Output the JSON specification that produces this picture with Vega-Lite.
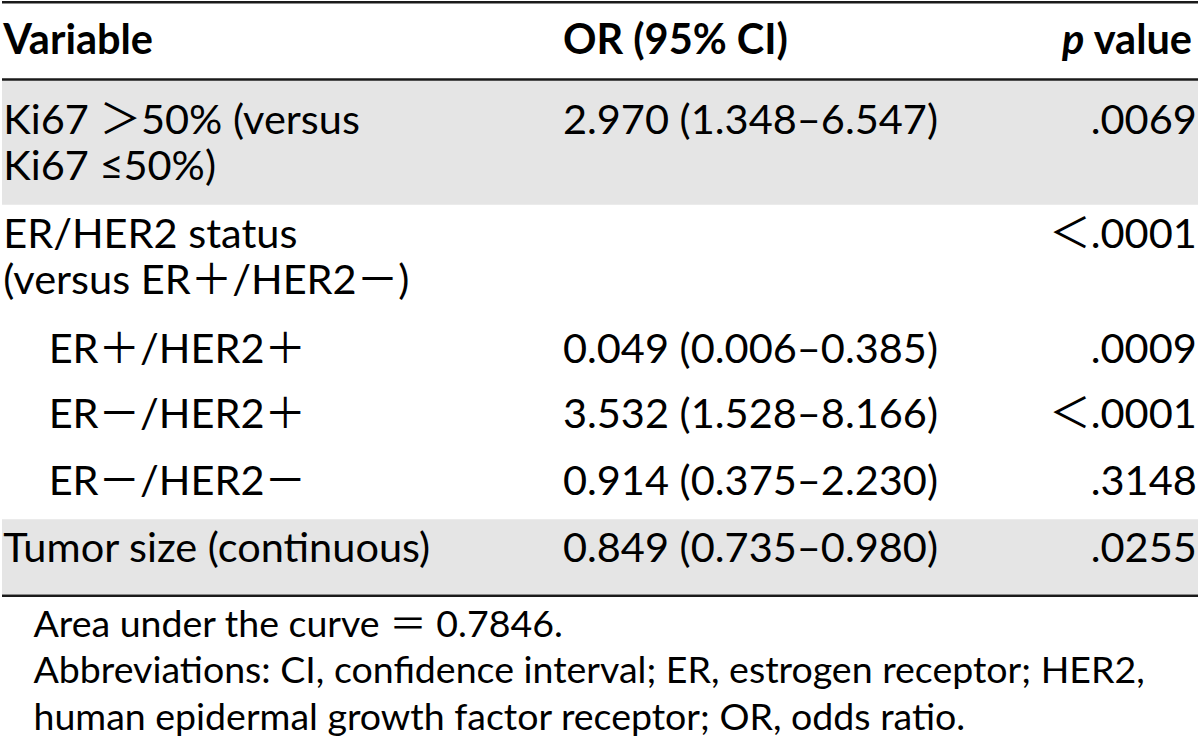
{
  "$schema": "https://vega.github.io/schema/vega-lite/v6.json",
  "width": 1200,
  "height": 738,
  "autosize": {"type": "fit", "contains": "padding"},
  "padding": 0,
  "background": "white",
  "config": {
    "view": {"stroke": null},
    "text": {"font": "Lato, 'Noto Sans CJK JP'", "fontSize": 41.5, "color": "#000000", "baseline": "alphabetic"}
  },
  "datasets": {
    "bands": [
      {"group": "Ki67", "top": 1.71, "bottom": 4.387},
      {"group": "Tumor size", "top": 11.161, "bottom": 12.774}
    ],
    "rules": [
      {"rule": "top", "pos": 0.026},
      {"rule": "header", "pos": 1.688},
      {"rule": "bottom", "pos": 12.806}
    ],
    "header": [
      {"variable": "Variable", "or": "OR (95% CI)", "p_italic": "p", "p_rest": "value", "line": 1.14}
    ],
    "rows": [
      {"variable": "Ki67 ＞50% (versus\nKi67 ≤50%)", "or": "2.970 (1.348–6.547)", "p": ".0069", "level": 0, "line": 2.86},
      {"variable": "ER/HER2 status\n(versus ER＋/HER2－)", "or": "", "p": "＜.0001", "level": 0, "line": 5.312},
      {"variable": "ER＋/HER2＋", "or": "0.049 (0.006–0.385)", "p": ".0009", "level": 1, "line": 7.785},
      {"variable": "ER－/HER2＋", "or": "3.532 (1.528–8.166)", "p": "＜.0001", "level": 1, "line": 9.204},
      {"variable": "ER－/HER2－", "or": "0.914 (0.375–2.230)", "p": ".3148", "level": 1, "line": 10.645},
      {"variable": "Tumor size (continuous)", "or": "0.849 (0.735–0.980)", "p": ".0255", "level": 0, "line": 12.086}
    ],
    "notes": [
      {"note": "Area under the curve ＝ 0.7846.", "line": 13.699},
      {"note": "Abbreviations: CI, confidence interval; ER, estrogen receptor; HER2,", "line": 14.688},
      {"note": "human epidermal growth factor receptor; OR, odds ratio.", "line": 15.699}
    ]
  },
  "layer": [
    {
      "data": {"name": "bands"},
      "mark": {"type": "rect", "color": "#e5e5e5"},
      "encoding": {
        "x": {"datum": 0, "type": "quantitative", "scale": {"domain": [0, 100], "nice": false, "zero": false}, "axis": null},
        "x2": {"datum": 100},
        "y": {"field": "top", "type": "quantitative", "scale": {"domain": [0, 15.871], "nice": false, "zero": false, "reverse": true}, "axis": null},
        "y2": {"field": "bottom"}
      }
    },
    {
      "data": {"name": "rules"},
      "mark": {"type": "rule", "color": "#1a1a1a", "strokeWidth": 2.5},
      "encoding": {
        "x": {"datum": 0, "type": "quantitative", "scale": {"domain": [0, 100], "nice": false, "zero": false}, "axis": null},
        "x2": {"datum": 100},
        "y": {"field": "pos", "type": "quantitative", "scale": {"domain": [0, 15.871], "nice": false, "zero": false, "reverse": true}, "axis": null}
      }
    },
    {
      "data": {"name": "header"},
      "mark": {"type": "text", "align": "left", "fontWeight": "bold"},
      "encoding": {
        "x": {"datum": 0.1, "type": "quantitative", "scale": {"domain": [0, 100], "nice": false, "zero": false}, "axis": null},
        "y": {"field": "line", "type": "quantitative", "scale": {"domain": [0, 15.871], "nice": false, "zero": false, "reverse": true}, "axis": null},
        "text": {"field": "variable"}
      }
    },
    {
      "data": {"name": "header"},
      "mark": {"type": "text", "align": "left", "fontWeight": "bold"},
      "encoding": {
        "x": {"datum": 46.9, "type": "quantitative", "scale": {"domain": [0, 100], "nice": false, "zero": false}, "axis": null},
        "y": {"field": "line", "type": "quantitative", "scale": {"domain": [0, 15.871], "nice": false, "zero": false, "reverse": true}, "axis": null},
        "text": {"field": "or"}
      }
    },
    {
      "data": {"name": "header"},
      "mark": {"type": "text", "align": "right", "fontWeight": "bold", "fontStyle": "italic"},
      "encoding": {
        "x": {"datum": 90.5, "type": "quantitative", "scale": {"domain": [0, 100], "nice": false, "zero": false}, "axis": null},
        "y": {"field": "line", "type": "quantitative", "scale": {"domain": [0, 15.871], "nice": false, "zero": false, "reverse": true}, "axis": null},
        "text": {"field": "p_italic"}
      }
    },
    {
      "data": {"name": "header"},
      "mark": {"type": "text", "align": "right", "fontWeight": "bold"},
      "encoding": {
        "x": {"datum": 99.5, "type": "quantitative", "scale": {"domain": [0, 100], "nice": false, "zero": false}, "axis": null},
        "y": {"field": "line", "type": "quantitative", "scale": {"domain": [0, 15.871], "nice": false, "zero": false, "reverse": true}, "axis": null},
        "text": {"field": "p_rest"}
      }
    },
    {
      "data": {"name": "rows"},
      "transform": [{"filter": "datum.level == 0"}],
      "mark": {"type": "text", "align": "left", "lineBreak": "\n", "lineHeight": 46.5},
      "encoding": {
        "x": {"datum": 0.1, "type": "quantitative", "scale": {"domain": [0, 100], "nice": false, "zero": false}, "axis": null},
        "y": {"field": "line", "type": "quantitative", "scale": {"domain": [0, 15.871], "nice": false, "zero": false, "reverse": true}, "axis": null},
        "text": {"field": "variable"}
      }
    },
    {
      "data": {"name": "rows"},
      "transform": [{"filter": "datum.level == 1"}],
      "mark": {"type": "text", "align": "left", "lineBreak": "\n", "lineHeight": 46.5},
      "encoding": {
        "x": {"datum": 3.9, "type": "quantitative", "scale": {"domain": [0, 100], "nice": false, "zero": false}, "axis": null},
        "y": {"field": "line", "type": "quantitative", "scale": {"domain": [0, 15.871], "nice": false, "zero": false, "reverse": true}, "axis": null},
        "text": {"field": "variable"}
      }
    },
    {
      "data": {"name": "rows"},
      "mark": {"type": "text", "align": "left"},
      "encoding": {
        "x": {"datum": 46.9, "type": "quantitative", "scale": {"domain": [0, 100], "nice": false, "zero": false}, "axis": null},
        "y": {"field": "line", "type": "quantitative", "scale": {"domain": [0, 15.871], "nice": false, "zero": false, "reverse": true}, "axis": null},
        "text": {"field": "or"}
      }
    },
    {
      "data": {"name": "rows"},
      "mark": {"type": "text", "align": "right"},
      "encoding": {
        "x": {"datum": 99.9, "type": "quantitative", "scale": {"domain": [0, 100], "nice": false, "zero": false}, "axis": null},
        "y": {"field": "line", "type": "quantitative", "scale": {"domain": [0, 15.871], "nice": false, "zero": false, "reverse": true}, "axis": null},
        "text": {"field": "p"}
      }
    },
    {
      "data": {"name": "notes"},
      "mark": {"type": "text", "align": "left", "fontSize": 37.5},
      "encoding": {
        "x": {"datum": 2.63, "type": "quantitative", "scale": {"domain": [0, 100], "nice": false, "zero": false}, "axis": null},
        "y": {"field": "line", "type": "quantitative", "scale": {"domain": [0, 15.871], "nice": false, "zero": false, "reverse": true}, "axis": null},
        "text": {"field": "note"}
      }
    }
  ]
}
